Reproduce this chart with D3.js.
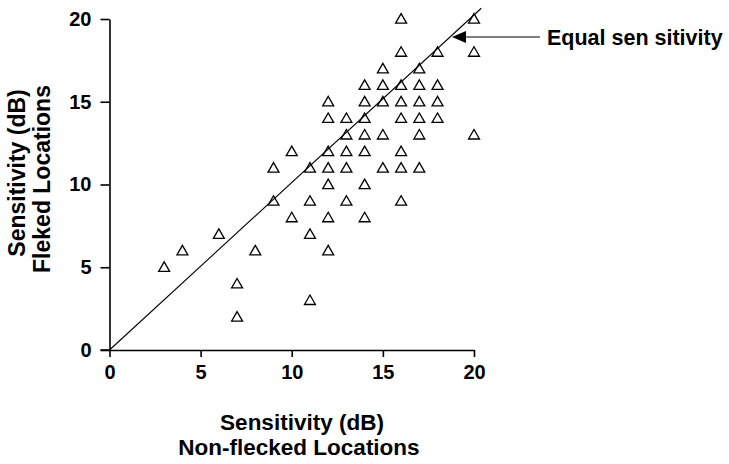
<!DOCTYPE html>
<html>
<head>
<meta charset="utf-8">
<script src="https://cdn.jsdelivr.net/npm/d3@7"></script>
<style>
  html, body { margin: 0; padding: 0; background: #fff; }
  svg { display: block; font-family: "Liberation Sans", Arial, Helvetica, sans-serif; }
</style>
</head>
<body>
<svg id="chart" width="729" height="464"></svg>
<script>
// ---- data ----
const nonFlecked = [16,20, 16,18,20, 15,17, 14,15,16,17,18, 12,14,15,16,17,18, 12,13,14,16,17,18, 13,14,15,17,20, 10,12,13,14,16, 9,11,12,13,15,16,17, 12,14, 9,11,13,16, 10,12,14, 6,11, 4,8,12, 3, 7, 11, 7];
const flecked    = [20,20, 18,18,18, 17,17, 16,16,16,16,16, 15,15,15,15,15,15, 14,14,14,14,14,14, 13,13,13,13,13, 12,12,12,12,12, 11,11,11,11,11,11,11, 10,10, 9,9,9,9, 8,8,8, 7,7, 6,6,6, 5, 4, 3, 2];
const xTicks = [0, 5, 10, 15, 20];
const yTicks = [0, 5, 10, 15, 20];
const equalLine = [[0, 0], [20.4, 20.65]];
const xLabel = ["Sensitivity (dB)", "Non-flecked Locations"];
const yLabel = ["Sensitivity (dB)", "Fleked Locations"];
const annotation = "Equal sen sitivity";

// ---- chart ----
const svg = d3.select("#chart");
const x = d3.scaleLinear().domain([0, 20]).range([109.5, 474]);
const y = d3.scaleLinear().domain([0, 20]).range([350, 19]);

// axes
const xAxis = svg.append("g").attr("transform", `translate(0,${y(0)})`)
  .call(d3.axisBottom(x).tickValues(xTicks).tickSize(7).tickPadding(8).tickSizeOuter(0));
const yAxis = svg.append("g").attr("transform", `translate(${x(0)},0)`)
  .call(d3.axisLeft(y).tickValues(yTicks).tickSize(9).tickPadding(9).tickSizeOuter(0));
[xAxis, yAxis].forEach(g => {
  g.selectAll("path.domain, line").attr("stroke", "#000").attr("stroke-width", 1.6);
  g.selectAll("text").attr("fill", "#000").style("font-size", "20px").style("font-weight", "bold")
    .style("font-family", '"Liberation Sans", Arial, sans-serif');
});
// extend x axis line left to the y tick end
svg.append("line")
  .attr("x1", x(0) - 9).attr("x2", x(0)).attr("y1", y(0)).attr("y2", y(0))
  .attr("stroke", "#000").attr("stroke-width", 1.6);

// equality line
svg.append("line")
  .attr("x1", x(equalLine[0][0])).attr("y1", y(equalLine[0][1]))
  .attr("x2", x(equalLine[1][0])).attr("y2", y(equalLine[1][1]))
  .attr("stroke", "#000").attr("stroke-width", 1.1);

// points
const tri = d3.symbol().type(d3.symbolTriangle).size(52);
svg.append("g").selectAll("path").data(nonFlecked.map((v, i) => [v, flecked[i]]))
  .join("path")
  .attr("d", tri)
  .attr("transform", d => `translate(${x(d[0])},${y(d[1]) + 1})`)
  .attr("fill", "none").attr("stroke", "#000").attr("stroke-width", 1.3);

// annotation arrow
const ay = 37;
svg.append("line").attr("x1", 540).attr("x2", 462).attr("y1", ay).attr("y2", ay)
  .attr("stroke", "#000").attr("stroke-width", 1.2);
svg.append("path").attr("d", `M452,${ay} L466,${ay - 6} L466,${ay + 6} Z`).attr("fill", "#000");
svg.append("text").attr("x", 547).attr("y", 45).text(annotation)
  .style("font-size", "21.5px").style("font-weight", "bold");

// axis labels
svg.append("text").attr("x", 302).attr("y", 430).attr("text-anchor", "middle")
  .style("font-size", "22.5px").style("font-weight", "bold").text(xLabel[0]);
svg.append("text").attr("x", 299).attr("y", 455).attr("text-anchor", "middle")
  .style("font-size", "22.5px").style("font-weight", "bold").text(xLabel[1]);
svg.append("text").attr("transform", "translate(25,173) rotate(-90)").attr("text-anchor", "middle")
  .style("font-size", "23px").style("font-weight", "bold").text(yLabel[0]);
svg.append("text").attr("transform", "translate(50,179) rotate(-90)").attr("text-anchor", "middle")
  .style("font-size", "23px").style("font-weight", "bold").text(yLabel[1]);
</script>
</body>
</html>
